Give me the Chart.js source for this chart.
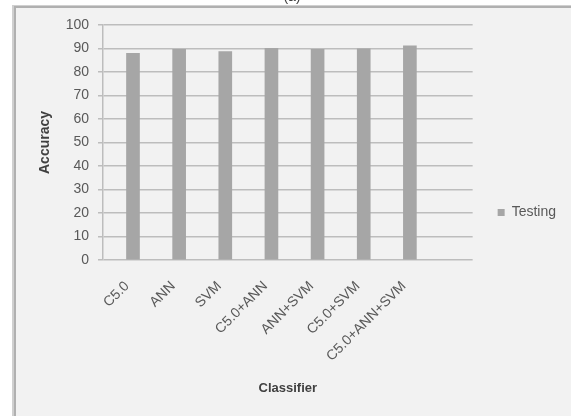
<!DOCTYPE html>
<html>
<head>
<meta charset="utf-8">
<script src="https://cdn.jsdelivr.net/npm/chart.js@4/dist/chart.umd.min.js"></script>
<style>
  html, body { margin: 0; padding: 0; background: #ffffff; }
  #wrap { position: absolute; left: 0; top: 0; width: 571px; height: 416px; }
</style>
</head>
<body>
<div id="wrap"><canvas id="chart" width="571" height="416"></canvas></div>
<script>
// Classifier accuracy on the testing set
const classifiers = ['C5.0', 'ANN', 'SVM', 'C5.0+ANN', 'ANN+SVM', 'C5.0+SVM', 'C5.0+ANN+SVM'];
const testing = [87.9, 89.6, 88.7, 90.1, 89.6, 89.9, 91.1];
const yTicks = [0, 10, 20, 30, 40, 50, 60, 70, 80, 90, 100];

const FONT = "'Liberation Sans', Arial, sans-serif";
const TEXT = '#595959';
const GRID = '#bdbdbd';
const X_MIN = -0.65;
const X_MAX = 7.36;

// Panel background with a soft frame along its top and left edges, plus caption
const panel = {
  id: 'panel',
  beforeDraw(chart) {
    const ctx = chart.ctx;
    ctx.save();
    ctx.fillStyle = '#ffffff';
    ctx.fillRect(0, 0, chart.width, chart.height);
    ctx.fillStyle = '#f2f2f2';
    ctx.fillRect(14, 7, chart.width - 14, chart.height - 7);
    ctx.fillStyle = '#d0d0d0';
    ctx.fillRect(12, 5, 2, chart.height - 5);
    ctx.fillRect(12, 5, chart.width - 12, 1);
    ctx.fillStyle = '#b0b0b0';
    ctx.fillRect(14, 6, 2, chart.height - 6);
    ctx.fillRect(14, 6, chart.width - 14, 2);
    ctx.fillStyle = '#404040';
    ctx.font = '14px ' + FONT;
    ctx.textAlign = 'center';
    ctx.textBaseline = 'bottom';
    ctx.fillText('(a)', 292, 4);
    ctx.restore();
  }
};

new Chart(document.getElementById('chart'), {
  type: 'bar',
  data: {
    datasets: [{
      label: 'Testing',
      data: testing.map((v, i) => ({ x: i, y: v })),
      backgroundColor: '#a6a6a6',
      borderWidth: 0,
      barThickness: 13
    }]
  },
  options: {
    responsive: false,
    animation: false,
    events: [],
    layout: { padding: { left: 30, top: 25, right: 5, bottom: 16 } },
    plugins: {
      tooltip: { enabled: false },
      legend: {
        position: 'right',
        labels: {
          boxWidth: 7,
          boxHeight: 7,
          padding: 25,
          color: TEXT,
          font: { family: FONT, size: 14 }
        }
      }
    },
    scales: {
      x: {
        type: 'linear',
        offset: false,
        bounds: 'data',
        min: X_MIN,
        max: X_MAX,
        afterBuildTicks(scale) {
          scale.ticks = classifiers.map((_, i) => ({ value: i }));
        },
        afterFit(scale) { scale.height = 140; },
        grid: { display: false, offset: false },
        border: { display: false },
        ticks: {
          autoSkip: false,
          minRotation: 45,
          maxRotation: 45,
          padding: 10,
          labelOffset: -6,
          color: TEXT,
          font: { family: FONT, size: 14 },
          callback: (v) => classifiers[v] ?? ''
        },
        title: {
          display: true,
          text: 'Classifier',
          color: '#404040',
          padding: { top: 0, bottom: 4 },
          font: { family: FONT, size: 13, weight: 'bold' }
        }
      },
      y: {
        min: 0,
        max: 100,
        afterBuildTicks(scale) {
          scale.ticks = yTicks.map(v => ({ value: v }));
        },
        afterFit(scale) { scale.width = 73; },
        grid: { color: GRID, lineWidth: 1.5, tickLength: 5, drawTicks: true },
        border: { display: true, color: GRID, width: 1.5 },
        ticks: {
          padding: 9,
          color: TEXT,
          font: { family: FONT, size: 14 }
        },
        title: {
          display: true,
          text: 'Accuracy',
          color: '#404040',
          padding: { top: 7, bottom: 0 },
          font: { family: FONT, size: 14, weight: 'bold' }
        }
      }
    }
  },
  plugins: [panel]
});
</script>
</body>
</html>
